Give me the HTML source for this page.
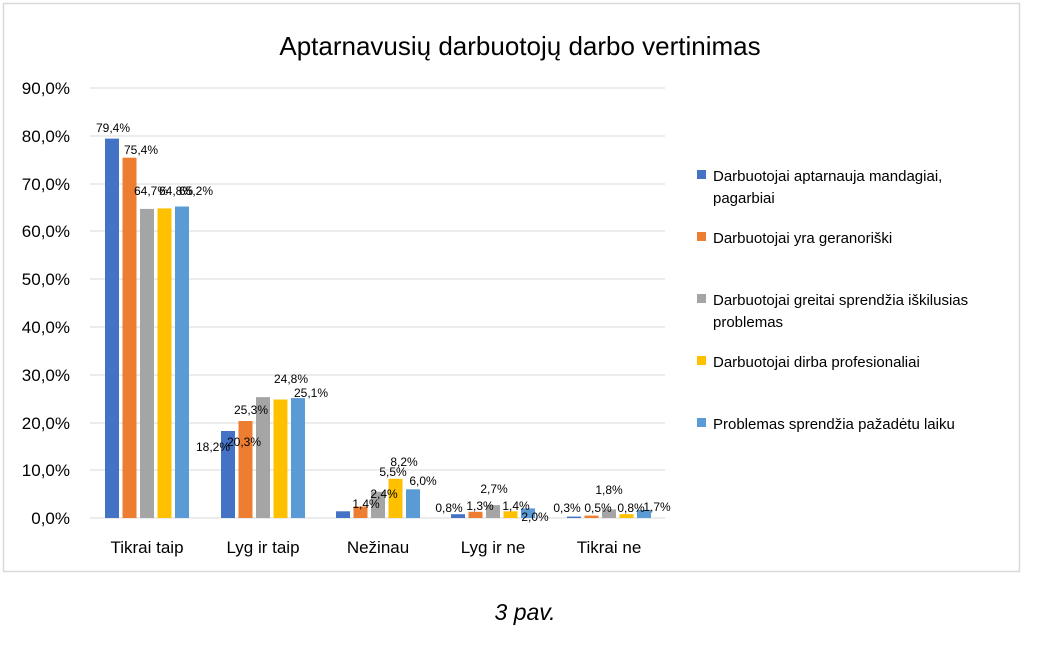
<!DOCTYPE html>
<html><head><meta charset="utf-8"><style>body{margin:0;background:#fff}svg{display:block}text{font-family:"Liberation Sans",sans-serif}</style></head><body>
<svg width="1039" height="648" viewBox="0 0 1039 648">
<rect x="3.5" y="3.5" width="1016" height="568" fill="#fff" stroke="#d9d9d9" stroke-width="1.5"/>
<text x="520" y="55" font-size="26" text-anchor="middle" fill="#000">Aptarnavusių darbuotojų darbo vertinimas</text>
<g stroke="#d9d9d9" stroke-width="1">
<line x1="90" x2="665" y1="88" y2="88"/><line x1="90" x2="665" y1="136" y2="136"/><line x1="90" x2="665" y1="184" y2="184"/><line x1="90" x2="665" y1="231" y2="231"/><line x1="90" x2="665" y1="279" y2="279"/><line x1="90" x2="665" y1="327" y2="327"/><line x1="90" x2="665" y1="375" y2="375"/><line x1="90" x2="665" y1="423" y2="423"/><line x1="90" x2="665" y1="470" y2="470"/><line x1="90" x2="665" y1="518" y2="518"/>
</g>
<g font-size="17" text-anchor="end" fill="#000">
<text x="70" y="94">90,0%</text><text x="70" y="142">80,0%</text><text x="70" y="190">70,0%</text><text x="70" y="237">60,0%</text><text x="70" y="285">50,0%</text><text x="70" y="333">40,0%</text><text x="70" y="381">30,0%</text><text x="70" y="429">20,0%</text><text x="70" y="476">10,0%</text><text x="70" y="524">0,0%</text>
</g>
<g font-size="17" text-anchor="middle" fill="#000">
<text x="147" y="553">Tikrai taip</text><text x="263" y="553">Lyg ir taip</text><text x="378" y="553">Nežinau</text><text x="493" y="553">Lyg ir ne</text><text x="609" y="553">Tikrai ne</text>
</g>
<g>
<rect x="105" y="138.6" width="14" height="379.4" fill="#4472C4"/><rect x="122.5" y="157.7" width="14" height="360.3" fill="#ED7D31"/><rect x="140" y="208.9" width="14" height="309.1" fill="#A5A5A5"/><rect x="157.5" y="208.4" width="14" height="309.6" fill="#FFC000"/><rect x="175" y="206.5" width="14" height="311.5" fill="#5B9BD5"/>
<rect x="221" y="431" width="14" height="87" fill="#4472C4"/><rect x="238.5" y="421" width="14" height="97" fill="#ED7D31"/><rect x="256" y="397.1" width="14" height="120.9" fill="#A5A5A5"/><rect x="273.5" y="399.5" width="14" height="118.5" fill="#FFC000"/><rect x="291" y="398.1" width="14" height="119.9" fill="#5B9BD5"/>
<rect x="336" y="511.3" width="14" height="6.7" fill="#4472C4"/><rect x="353.5" y="506.5" width="14" height="11.5" fill="#ED7D31"/><rect x="371" y="491.7" width="14" height="26.3" fill="#A5A5A5"/><rect x="388.5" y="478.8" width="14" height="39.2" fill="#FFC000"/><rect x="406" y="489.3" width="14" height="28.7" fill="#5B9BD5"/>
<rect x="451" y="514.2" width="14" height="3.8" fill="#4472C4"/><rect x="468.5" y="511.8" width="14" height="6.2" fill="#ED7D31"/><rect x="486" y="505.1" width="14" height="12.9" fill="#A5A5A5"/><rect x="503.5" y="511.3" width="14" height="6.7" fill="#FFC000"/><rect x="521" y="508.4" width="14" height="9.6" fill="#5B9BD5"/>
<rect x="567" y="516.6" width="14" height="1.4" fill="#4472C4"/><rect x="584.5" y="515.6" width="14" height="2.4" fill="#ED7D31"/><rect x="602" y="509.4" width="14" height="8.6" fill="#A5A5A5"/><rect x="619.5" y="514.2" width="14" height="3.8" fill="#FFC000"/><rect x="637" y="509.9" width="14" height="8.1" fill="#5B9BD5"/>
</g>
<g font-size="12" text-anchor="middle" fill="#000">
<text x="113" y="132">79,4%</text><text x="141" y="154">75,4%</text><text x="151" y="195">64,7%</text><text x="176" y="195">64,8%</text><text x="196" y="195">65,2%</text>
<text x="213" y="451">18,2%</text><text x="244" y="446">20,3%</text><text x="251" y="414">25,3%</text><text x="291" y="383">24,8%</text><text x="311" y="397">25,1%</text>
<text x="366" y="508">1,4%</text><text x="384" y="498">2,4%</text><text x="393" y="476">5,5%</text><text x="404" y="466">8,2%</text><text x="423" y="485">6,0%</text>
<text x="449" y="512">0,8%</text><text x="480" y="510">1,3%</text><text x="494" y="493">2,7%</text><text x="516" y="510">1,4%</text><text x="535" y="521">2,0%</text>
<text x="567" y="512">0,3%</text><text x="598" y="512">0,5%</text><text x="609" y="494">1,8%</text><text x="631" y="512">0,8%</text><text x="657" y="511">1,7%</text>
</g>
<g font-size="15" fill="#000">
<rect x="697" y="170" width="9" height="9" fill="#4472C4"/><text x="713" y="181">Darbuotojai aptarnauja mandagiai,</text><text x="713" y="203">pagarbiai</text>
<rect x="697" y="232" width="9" height="9" fill="#ED7D31"/><text x="713" y="243">Darbuotojai yra geranoriški</text>
<rect x="697" y="294" width="9" height="9" fill="#A5A5A5"/><text x="713" y="305">Darbuotojai greitai sprendžia iškilusias</text><text x="713" y="327">problemas</text>
<rect x="697" y="356" width="9" height="9" fill="#FFC000"/><text x="713" y="367">Darbuotojai dirba profesionaliai</text>
<rect x="697" y="418" width="9" height="9" fill="#5B9BD5"/><text x="713" y="429">Problemas sprendžia pažadėtu laiku</text>
</g>
<text x="525" y="620" font-size="23" font-style="italic" text-anchor="middle" fill="#000">3 pav.</text>
</svg>
</body></html>
